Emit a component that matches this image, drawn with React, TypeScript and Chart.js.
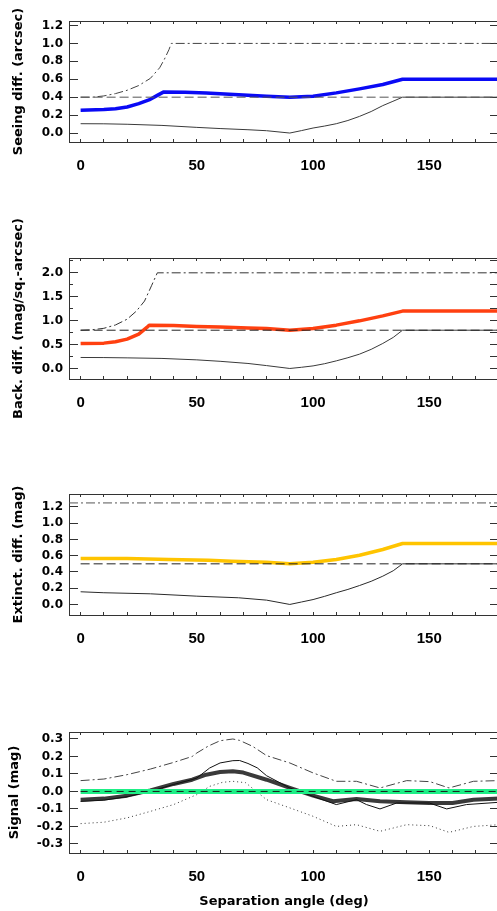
import { useEffect, useRef } from 'react';
import { Chart, registerables } from 'chart.js';

Chart.register(...registerables);

// ---------------- shared x axis ----------------
const ANGLE_MIN = -5;
const ANGLE_MAX = 180;
const ANGLE_TICK_STEP = 10;
const ANGLE_LABEL_STEP = 50;
const X_TITLE = 'Separation angle (deg)';

// ---------------- panel 1 : seeing ----------------
const seeingDiffAngle = [0, 10, 20, 35, 50, 60, 72, 80, 90, 95, 100, 105, 110, 115, 120, 125, 130, 134, 138.5, 180];
const seeingDiffValue = [0.104, 0.103, 0.098, 0.085, 0.063, 0.05, 0.037, 0.026, 0.0, 0.027, 0.056, 0.078, 0.104, 0.14, 0.186, 0.24, 0.306, 0.35, 0.4, 0.4];
const seeingTotalAngle = [0, 10, 15, 20, 25, 30, 33, 35.8, 45, 54, 60, 72, 80, 90, 100, 110, 120, 130, 138.5, 180];
const seeingTotalValue = [0.253, 0.262, 0.272, 0.291, 0.328, 0.376, 0.42, 0.459, 0.455, 0.448, 0.437, 0.421, 0.41, 0.399, 0.41, 0.448, 0.493, 0.541, 0.6, 0.6];
const seeingLimitAngle = [0, 5, 10, 15, 20, 25, 30, 34, 36, 38, 39, 180];
const seeingLimitValue = [0.4, 0.4, 0.414, 0.44, 0.477, 0.53, 0.61, 0.728, 0.821, 0.93, 1.0, 1.0];
const seeingRefAngle = [0, 180];
const seeingRefValue = [0.4, 0.4];

// ---------------- panel 2 : background ----------------
const backDiffAngle = [0, 10, 20, 35, 50, 60, 72, 80, 90, 95, 100, 105, 110, 115, 120, 125, 130, 134.5, 138.5, 180];
const backDiffValue = [0.23, 0.228, 0.222, 0.21, 0.18, 0.15, 0.105, 0.06, 0.0, 0.025, 0.054, 0.1, 0.159, 0.225, 0.3, 0.4, 0.523, 0.65, 0.8, 0.8];
const backTotalAngle = [0, 10, 15, 20, 25, 28.5, 29.5, 40, 50, 60, 72, 80, 90, 100, 110, 120, 130, 138.5, 180];
const backTotalValue = [0.523, 0.53, 0.56, 0.613, 0.718, 0.858, 0.906, 0.9, 0.879, 0.865, 0.845, 0.835, 0.8, 0.835, 0.906, 0.996, 1.1, 1.2, 1.2];
const backLimitAngle = [0, 5, 10, 15, 20, 24, 27.5, 30.5, 33, 180];
const backLimitValue = [0.8, 0.81, 0.84, 0.91, 1.03, 1.2, 1.41, 1.73, 2.0, 2.0];
const backRefAngle = [0, 180];
const backRefValue = [0.8, 0.8];

// ---------------- panel 3 : extinction ----------------
const extDiffAngle = [0, 10, 30, 50, 68, 80, 90, 95, 100, 105, 110, 115, 120, 125, 130, 134.5, 138.5, 180];
const extDiffValue = [0.156, 0.144, 0.131, 0.102, 0.082, 0.053, 0.0, 0.03, 0.06, 0.1, 0.144, 0.185, 0.233, 0.285, 0.348, 0.415, 0.5, 0.5];
const extTotalAngle = [0, 20, 38, 55, 65, 80, 90, 100, 110, 120, 130, 138.5, 180];
const extTotalValue = [0.566, 0.566, 0.553, 0.545, 0.533, 0.52, 0.5, 0.52, 0.553, 0.606, 0.677, 0.75, 0.75];
const extLimitAngle = [-5, 180];
const extLimitValue = [1.25, 1.25];
const extRefAngle = [0, 180];
const extRefValue = [0.5, 0.5];

// ---------------- panel 4 : signal ----------------
const signalMeanAngle = [0, 10, 20, 30, 40, 48, 54, 60, 65.5, 70, 80, 90, 100, 108.6, 118.7, 128.8, 140, 150, 160, 169, 180];
const signalMeanValue = [-0.047, -0.041, -0.024, 0.006, 0.043, 0.067, 0.096, 0.111, 0.115, 0.108, 0.067, 0.02, -0.024, -0.056, -0.043, -0.056, -0.062, -0.066, -0.066, -0.047, -0.041];
const signalCurveAngle = [0, 10, 20, 30, 40, 48, 50, 55.5, 60, 65.5, 68.4, 72, 76, 80, 85, 90, 100, 110, 118.7, 123, 128.8, 136, 150, 157.5, 166, 180];
const signalCurveValue = [-0.057, -0.05, -0.03, 0.0, 0.04, 0.068, 0.077, 0.134, 0.163, 0.176, 0.177, 0.16, 0.135, 0.09, 0.055, 0.02, -0.028, -0.075, -0.047, -0.075, -0.1, -0.066, -0.066, -0.1, -0.075, -0.062];
const signalUpperAngle = [0, 10, 20, 30, 40, 48, 50, 55, 60, 65.5, 68.4, 74, 80, 90, 100, 110, 118.7, 128.8, 140.3, 150.3, 158.5, 169, 180];
const signalUpperValue = [0.062, 0.071, 0.096, 0.128, 0.166, 0.2, 0.22, 0.26, 0.29, 0.3, 0.292, 0.258, 0.205, 0.163, 0.106, 0.058, 0.058, 0.02, 0.062, 0.056, 0.02, 0.058, 0.062];
const signalLowerAngle = [0, 10, 20, 30, 40, 50, 55.5, 61, 65.5, 71, 75.6, 80, 90, 100, 110, 118.7, 128.8, 140.3, 150.3, 158.5, 169, 180];
const signalLowerValue = [-0.184, -0.176, -0.151, -0.114, -0.075, -0.018, 0.029, 0.052, 0.058, 0.05, 0.0, -0.047, -0.094, -0.142, -0.2, -0.19, -0.228, -0.19, -0.196, -0.234, -0.2, -0.19];
const signalZeroAngle = [0, 180];
const signalZeroValue = [0, 0];

// ---------------- styling / layout ----------------
const CANVAS_W = 500;
const PAD_TOP = 50;
const PLOT_H = 121;
const AXIS_LEFT = 69;
const AXIS_COLOR = '#333333';
const Y_TICK_FONT = { family: '"DejaVu Sans", sans-serif', weight: 'bold' as const, size: 12 };
const X_TICK_FONT = { family: '"Liberation Sans", Arial, sans-serif', weight: 'bold' as const, size: 15 };
const TITLE_FONT = { family: '"DejaVu Sans", sans-serif', weight: 'bold' as const, size: 13 };
const DASH = [9, 4];
const DASH_DOT = [9, 3, 2, 3];
const DOTS = [1, 3];

type Line = { angle: number[]; value: number[]; color: string; width: number; dash?: number[] };
type PanelCfg = {
  plotTop: number;
  bottomSpace: number;
  yMin: number;
  yMax: number;
  yStep: number;
  yLabelStep: number;
  yMinorStep?: number;
  yTitle: string;
  yTitlePad: number;
  xTitle?: string;
  lines: Line[]; // first = drawn on top
};

const panels: PanelCfg[] = [
  {
    plotTop: 21, bottomSpace: 60, yMin: -0.1, yMax: 1.25, yStep: 0.2, yLabelStep: 0.2,
    yTitle: 'Seeing diff. (arcsec)', yTitlePad: 11,
    lines: [
      { angle: seeingRefAngle, value: seeingRefValue, color: '#555555', width: 1, dash: DASH },
      { angle: seeingTotalAngle, value: seeingTotalValue, color: '#0a0af5', width: 3.5 },
      { angle: seeingLimitAngle, value: seeingLimitValue, color: '#444444', width: 1, dash: DASH_DOT },
      { angle: seeingDiffAngle, value: seeingDiffValue, color: '#3a3a3a', width: 1 },
    ],
  },
  {
    plotTop: 258, bottomSpace: 60, yMin: -0.22, yMax: 2.31, yStep: 0.5, yLabelStep: 0.5, yMinorStep: 0.25,
    yTitle: 'Back. diff. (mag/sq.-arcsec)', yTitlePad: 11,
    lines: [
      { angle: backRefAngle, value: backRefValue, color: '#222222', width: 1, dash: DASH },
      { angle: backTotalAngle, value: backTotalValue, color: '#ff4010', width: 3.5 },
      { angle: backLimitAngle, value: backLimitValue, color: '#333333', width: 1, dash: DASH_DOT },
      { angle: backDiffAngle, value: backDiffValue, color: '#3a3a3a', width: 1 },
    ],
  },
  {
    plotTop: 494, bottomSpace: 60, yMin: -0.13, yMax: 1.36, yStep: 0.2, yLabelStep: 0.2,
    yTitle: 'Extinct. diff. (mag)', yTitlePad: 11,
    lines: [
      { angle: extRefAngle, value: extRefValue, color: '#222222', width: 1, dash: DASH },
      { angle: extTotalAngle, value: extTotalValue, color: '#ffc400', width: 3.5 },
      { angle: extLimitAngle, value: extLimitValue, color: '#555555', width: 1, dash: DASH_DOT },
      { angle: extDiffAngle, value: extDiffValue, color: '#2a2a2a', width: 1 },
    ],
  },
  {
    plotTop: 732, bottomSpace: 80, yMin: -0.352, yMax: 0.34, yStep: 0.1, yLabelStep: 0.1,
    yTitle: 'Signal (mag)', yTitlePad: 7, xTitle: X_TITLE,
    lines: [
      { angle: signalZeroAngle, value: signalZeroValue, color: '#1a1a1a', width: 1, dash: [7, 5] },
      { angle: signalZeroAngle, value: signalZeroValue, color: '#1eef86', width: 5 },
      { angle: signalCurveAngle, value: signalCurveValue, color: '#111111', width: 1 },
      { angle: signalMeanAngle, value: signalMeanValue, color: '#3a3a3a', width: 4 },
      { angle: signalUpperAngle, value: signalUpperValue, color: '#444444', width: 1, dash: DASH_DOT },
      { angle: signalLowerAngle, value: signalLowerValue, color: '#333333', width: 1, dash: DOTS },
    ],
  },
];

const isMultiple = (v: number, step: number) => Math.abs(v / step - Math.round(v / step)) < 1e-6;
const fmtY = (v: number) => (Math.abs(v) < 1e-9 ? 0 : v).toFixed(1);
const noPad = (s: any) => { s.paddingLeft = 0; s.paddingRight = 0; s.paddingTop = 0; s.paddingBottom = 0; };

function buildConfig(p: PanelCfg): any {
  const bottomH = p.bottomSpace;
  const datasets = p.lines.map((l, i) => ({
    data: l.angle.map((a, k) => ({ x: a, y: l.value[k] })),
    borderColor: l.color,
    borderWidth: l.width,
    borderDash: l.dash || [],
    pointRadius: 0,
    pointHoverRadius: 0,
    tension: 0,
    fill: false,
    borderCapStyle: 'butt',
    borderJoinStyle: 'round',
    order: i,
  }));
  const tickGrid = (len: number) => ({
    display: true,
    drawOnChartArea: false,
    drawTicks: true,
    tickLength: len,
    color: AXIS_COLOR,
    lineWidth: 1,
  });
  const border = { display: true, color: AXIS_COLOR, width: 1 };
  const scales: any = {
    x: {
      type: 'linear',
      position: 'bottom',
      min: ANGLE_MIN,
      max: ANGLE_MAX,
      border,
      grid: tickGrid(-3),
      ticks: {
        stepSize: ANGLE_TICK_STEP,
        includeBounds: false,
        autoSkip: false,
        maxRotation: 0,
        padding: 18,
        color: '#000',
        font: X_TICK_FONT,
        callback: (v: any) => (isMultiple(Number(v), ANGLE_LABEL_STEP) ? String(v) : ''),
      },
      title: p.xTitle
        ? { display: true, text: p.xTitle, color: '#000', font: TITLE_FONT, padding: { top: 0, bottom: 24 } }
        : { display: false },
      afterFit: (s: any) => { s.height = bottomH; noPad(s); },
    },
    xt: {
      type: 'linear',
      position: 'top',
      min: ANGLE_MIN,
      max: ANGLE_MAX,
      border,
      grid: tickGrid(-3),
      ticks: { display: false, stepSize: ANGLE_TICK_STEP, includeBounds: false, autoSkip: false, padding: 0 },
      afterFit: (s: any) => { s.height = 0; noPad(s); },
    },
    y: {
      type: 'linear',
      position: 'left',
      min: p.yMin,
      max: p.yMax,
      border,
      grid: tickGrid(-9),
      ticks: {
        stepSize: p.yStep,
        includeBounds: false,
        autoSkip: false,
        padding: 15,
        color: '#000',
        font: Y_TICK_FONT,
        callback: (v: any) => (isMultiple(Number(v), p.yLabelStep) ? fmtY(Number(v)) : ''),
      },
      title: { display: true, text: p.yTitle, color: '#000', font: TITLE_FONT, padding: { top: p.yTitlePad, bottom: 0 } },
      afterFit: (s: any) => { s.width = AXIS_LEFT; noPad(s); },
    },
    yr: {
      type: 'linear',
      position: 'right',
      min: p.yMin,
      max: p.yMax,
      border,
      grid: tickGrid(-9),
      ticks: { display: false, stepSize: p.yMinorStep || p.yStep, includeBounds: false, autoSkip: false, padding: 0 },
      afterFit: (s: any) => { s.width = 1; noPad(s); },
    },
  };
  if (p.yMinorStep) {
    scales.ym = {
      type: 'linear',
      position: 'left',
      weight: -1,
      min: p.yMin,
      max: p.yMax,
      border: { display: false },
      grid: tickGrid(-4),
      ticks: { display: false, stepSize: p.yMinorStep, includeBounds: false, autoSkip: false, padding: 0 },
      afterFit: (s: any) => { s.width = 0; noPad(s); },
    };
  }
  return {
    type: 'line',
    data: { datasets },
    options: {
      responsive: false,
      maintainAspectRatio: false,
      animation: false,
      devicePixelRatio: 1,
      events: [],
      layout: { autoPadding: false, padding: { top: PAD_TOP, left: 0, right: 0, bottom: 0 } },
      plugins: { legend: { display: false }, tooltip: { enabled: false }, title: { display: false } },
      scales,
    },
  };
}

function Panel({ cfg }: { cfg: PanelCfg }) {
  const ref = useRef<HTMLCanvasElement | null>(null);
  const canvasH = PAD_TOP + PLOT_H + cfg.bottomSpace;
  useEffect(() => {
    if (!ref.current) return;
    const chart = new Chart(ref.current, buildConfig(cfg));
    return () => chart.destroy();
  }, [cfg]);
  return (
    <canvas
      ref={ref}
      width={CANVAS_W}
      height={canvasH}
      style={{ position: 'absolute', left: 0, top: cfg.plotTop - PAD_TOP, width: CANVAS_W, height: canvasH }}
    />
  );
}

export default function App() {
  return (
    <div style={{ position: 'fixed', left: 0, top: 0, width: 497, height: 911, overflow: 'hidden', background: '#fff' }}>
      {panels.map((p, i) => (
        <Panel key={i} cfg={p} />
      ))}
    </div>
  );
}
